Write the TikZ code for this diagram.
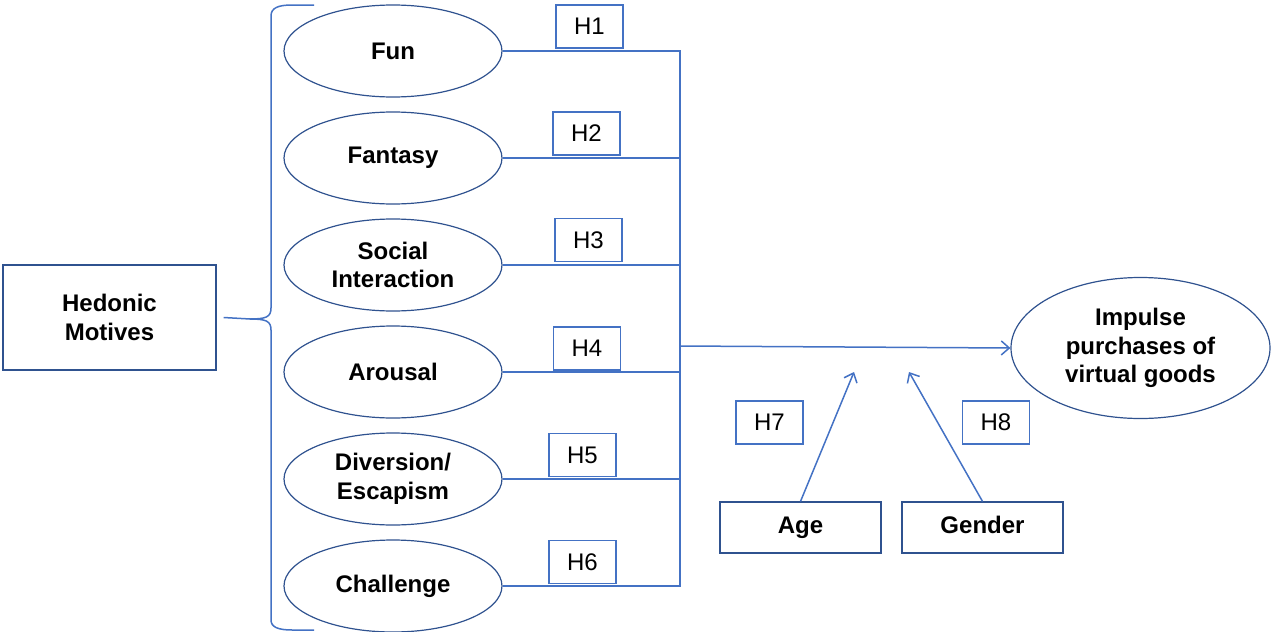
\documentclass[tikz,border=0pt]{standalone}
\usepackage{fontspec}
\setmainfont{Liberation Sans}
\usetikzlibrary{arrows.meta,positioning,shapes.geometric}
\definecolor{linkblue}{HTML}{4472C4}
\definecolor{rimblue}{HTML}{2F528F}
\newcommand{\labfont}{\fontsize{12}{14.4}\selectfont}

\begin{document}
\begin{tikzpicture}[x=0.5pt,y=-0.5pt,auto,node distance=53.5pt,
    >={Straight Barb[length=4pt,width=7pt]}]
            \tikzstyle{motive} = [draw=rimblue, ellipse, inner sep=0pt, line width=0.6pt,
                minimum width=109pt, minimum height=46pt, align=center, font=\labfont\bfseries]
            \tikzstyle{block} = [draw=rimblue, rectangle, line width=0.6pt,
                align=center, font=\labfont\bfseries]
            \tikzstyle{hyp} = [draw=linkblue, rectangle, line width=0.75pt,
                minimum width=33.5pt, minimum height=21.5pt, font=\labfont]
            \tikzstyle{link} = [draw=linkblue, line width=0.75pt]
            \useasboundingbox (0,0) rectangle (1271,632);

            % hedonic motives and the six dimensions
            \node [block, minimum width=106.5pt, minimum height=52.5pt] (hedonic) at (109.5,317.5) {Hedonic\\Motives};
            \node [motive] (fun) at (393,51) {Fun};
            \node [motive, below of=fun] (fantasy) {Fantasy};
            \node [motive, below of=fantasy] (social) {Social\\Interaction};
            \node [motive, below of=social] (arousal) {Arousal};
            \node [motive, below of=arousal] (diversion) {Diversion/\\Escapism};
            \node [motive, below of=diversion] (challenge) {Challenge};

            \node [motive, minimum width=129.5pt, minimum height=70.5pt] (impulse) at (1140.5,348) {Impulse\\purchases of\\virtual goods};
            \node [block, minimum width=80.5pt, minimum height=25.5pt, text height=8.8pt, text depth=2.6pt] (age) at (800.5,527.5) {Age};
            \node [block, minimum width=80.5pt, minimum height=25.5pt, text height=8.8pt, text depth=2.6pt] (gender) at (982.5,527.5) {Gender};

            % hypothesis labels
            \node [hyp] (h1) at (589.5,26.5) {H1};
            \node [hyp] (h2) at (586.5,133.5) {H2};
            \node [hyp] (h3) at (588.5,240) {H3};
            \node [hyp] (h4) at (587,348.5) {H4};
            \node [hyp] (h5) at (582.5,455) {H5};
            \node [hyp] (h6) at (582.5,562) {H6};
            \node [hyp] (h7) at (769.5,422.5) {H7};
            \node [hyp] (h8) at (996,422.5) {H8};

            \coordinate (bus) at (680,51);
            \coordinate (join) at (680,346);
            \coordinate (agetip) at (854,372);
            \coordinate (gendertip) at (909,372);

            % brace
            \draw [link] ([xshift=3.5pt]hedonic.east) -- (250,319)
                .. controls (266,319) and (271,317) .. (271,308) -- (271,16)
                .. controls (271,8) and (278,5) .. (292,5) -- (314,5);
            \draw [link] (250,319) .. controls (266,319) and (271,321) .. (271,330)
                -- (271,620) .. controls (271,627) and (278,630) .. (292,630) -- (314,630);

            % connectors
            \draw [link] (fun.east) -- (bus) |- (challenge.east);
            \foreach \m in {fantasy,social,arousal,diversion}
                \draw [link] (\m.east) -- (\m.east -| bus);
            \draw [link,->] (join) -- (impulse.west);
            \draw [link,->] (age.north) -- (agetip);
            \draw [link,->] (gender.north) -- (gendertip);

        \end{tikzpicture}
\end{document}
